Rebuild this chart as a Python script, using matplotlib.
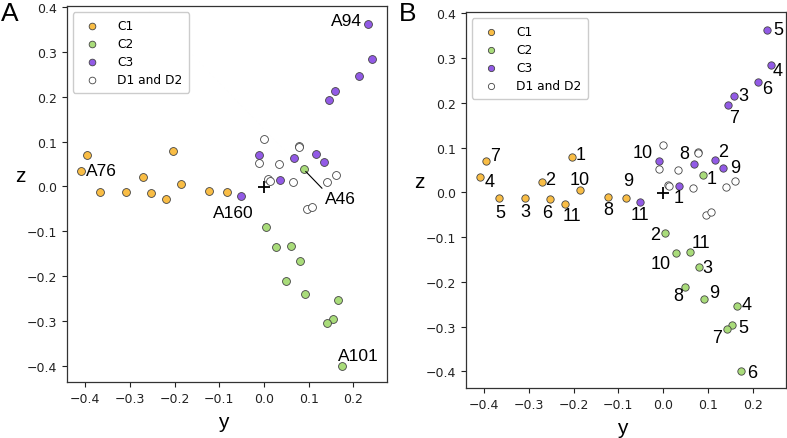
import matplotlib
matplotlib.use("Agg")
import matplotlib.pyplot as plt

# Data: (y, z) coordinates of each group, with the index of each point
c1_y = [-0.204, -0.270, -0.309, -0.408, -0.367, -0.253, -0.396, -0.123, -0.082, -0.185, -0.218]
c1_z = [0.078, 0.022, -0.012, 0.035, -0.013, -0.015, 0.070, -0.010, -0.012, 0.005, -0.027]
c1_ids = ["1", "2", "3", "4", "5", "6", "7", "8", "9", "10", "11"]

c2_y = [0.089, 0.004, 0.081, 0.166, 0.154, 0.175, 0.142, 0.050, 0.091, 0.028, 0.060]
c2_z = [0.038, -0.090, -0.166, -0.253, -0.296, -0.400, -0.305, -0.212, -0.239, -0.135, -0.134]
c2_ids = ["1", "2", "3", "4", "5", "6", "7", "8", "9", "10", "11"]

c3_y = [0.035, 0.117, 0.159, 0.241, 0.232, 0.212, 0.145, 0.068, 0.134, -0.010, -0.052]
c3_z = [0.015, 0.073, 0.214, 0.285, 0.363, 0.246, 0.194, 0.064, 0.054, 0.071, -0.022]
c3_ids = ["1", "2", "3", "4", "5", "6", "7", "8", "9", "10", "11"]

d_y = [0.000, 0.079, 0.078, -0.010, 0.033, 0.010, 0.014, 0.066, 0.140, 0.161, 0.096, 0.108]
d_z = [0.105, 0.090, 0.087, 0.053, 0.049, 0.017, 0.013, 0.009, 0.011, 0.026, -0.050, -0.045]

center_y = [0.0]
center_z = [-0.002]

# named residues in panel A: (group, index, label)
named = [("C1", 3, "A76"), ("C3", 4, "A94"), ("C3", 10, "A160"),
         ("C2", 0, "A46"), ("C2", 5, "A101")]

col_c1 = "#f9bd45"
col_c2 = "#a9dc7a"
col_c3 = "#925ae6"

fig = plt.figure(figsize=(7.87, 4.39), dpi=100)
axA = fig.add_axes([0.0848, 0.1269, 0.4066, 0.8565])
axB = fig.add_axes([0.5917, 0.1139, 0.4070, 0.8558])

groups = {
    "C1": (c1_y, c1_z),
    "C2": (c2_y, c2_z),
    "C3": (c3_y, c3_z),
}

# label offsets (points) for panel A names
offA = {"A76": (3, 0, "left"), "A94": (-4, 2, "right"), "A160": (-5, -11.5, "center"),
        "A46": (15, -21, "left"), "A101": (-3, 7, "left")}

# label offsets (points) for panel B numbers
offB = {
    "C1": [(6.3, 2), (6, 2), (0.5, -10), (6.7, -3.4), (1, -10.5), (-2, -9.6),
           (6.5, 3.8), (0.4, -9.1), (1, 12.2), (-0.2, 7.7), (4.3, -8.2)],
    "C2": [(6.5, -2.4), (-6.7, -1.2), (5.8, -0.3), (6.3, 0.5), (8.1, -1.9), (7.5, -0.9),
           (-7.2, -6.2), (-5.5, -6), (7.2, 4.6), (-10.8, -7.9), (8.1, 6.9)],
    "C3": [(0.2, -8.9), (5.3, 5.5), (6.2, 0.4), (4.8, -4.1), (8.4, 0.5), (6.5, -4.8),
           (4.5, -8.9), (-6.5, 7), (8.6, 0.5), (-11.7, 6), (0, -9.1)],
}

for ax in (axA, axB):
    s = 32 if ax is axA else 28
    ax.scatter(d_y, d_z, s=s, facecolor="white", edgecolor="#444444", linewidth=0.6,
               zorder=2, label="D1 and D2")
    ax.scatter(c1_y, c1_z, s=s, color=col_c1, edgecolor="#444444", linewidth=0.6,
               zorder=3, label="C1")
    ax.scatter(c2_y, c2_z, s=s, color=col_c2, edgecolor="#444444", linewidth=0.6,
               zorder=3, label="C2")
    ax.scatter(c3_y, c3_z, s=s, color=col_c3, edgecolor="#444444", linewidth=0.6,
               zorder=3, label="C3")
    ax.plot(center_y, center_z, marker="+", color="black", markersize=9,
            markeredgewidth=1.3, linestyle="none", zorder=4)

    ax.set_xlim(-0.441, 0.2745)
    ax.set_ylim(-0.437, 0.402)
    ax.set_xticks([-0.4, -0.3, -0.2, -0.1, 0.0, 0.1, 0.2])
    ax.set_yticks([-0.4, -0.3, -0.2, -0.1, 0.0, 0.1, 0.2, 0.3, 0.4])
    ax.tick_params(labelsize=9, length=3.5, width=0.8, colors="#222222")
    for sp in ax.spines.values():
        sp.set_linewidth(0.9)
        sp.set_color("#333333")

    h, l = ax.get_legend_handles_labels()
    order = [1, 2, 3, 0]
    ax.legend([h[i] for i in order], [l[i] for i in order], loc="upper left",
              fontsize=8.8, markerscale=0.85, borderpad=0.55, handletextpad=1.1,
              labelspacing=0.4, framealpha=1, edgecolor="#cccccc")

    ax.text(-0.146, 0.549, "z", transform=ax.transAxes, ha="center", va="center",
            fontsize=15, family="Liberation Sans")
    ax.text(0.49, -0.105, "y", transform=ax.transAxes, ha="center", va="center",
            fontsize=15, family="Liberation Sans")

# Panel A: residue names
for grp, idx, name in named:
    gy, gz = groups[grp]
    dx, dy, ha = offA[name]
    if name == "A46":
        axA.annotate(name, (gy[idx], gz[idx]), xytext=(dx, dy), textcoords="offset points",
                     ha=ha, va="center", fontsize=12.5, family="Liberation Sans",
                     arrowprops=dict(arrowstyle="-", color="black", lw=0.8,
                                     shrinkA=0, shrinkB=2, relpos=(0.05, 0.9)))
    else:
        axA.annotate(name, (gy[idx], gz[idx]), xytext=(dx, dy), textcoords="offset points",
                     ha=ha, va="center", fontsize=12.5, family="Liberation Sans")

# Panel B: point indices
ids = {"C1": c1_ids, "C2": c2_ids, "C3": c3_ids}
for grp in ("C1", "C2", "C3"):
    gy, gz = groups[grp]
    for i, lab in enumerate(ids[grp]):
        dx, dy = offB[grp][i]
        axB.annotate(lab, (gy[i], gz[i]), xytext=(dx, dy), textcoords="offset points",
                     ha="center", va="center", fontsize=13, family="Liberation Sans")

fig.text(0.0125, 0.968, "A", ha="center", va="center", fontsize=19, family="Liberation Sans")
fig.text(0.5185, 0.968, "B", ha="center", va="center", fontsize=19, family="Liberation Sans")

fig.savefig("out.png", dpi=100)
